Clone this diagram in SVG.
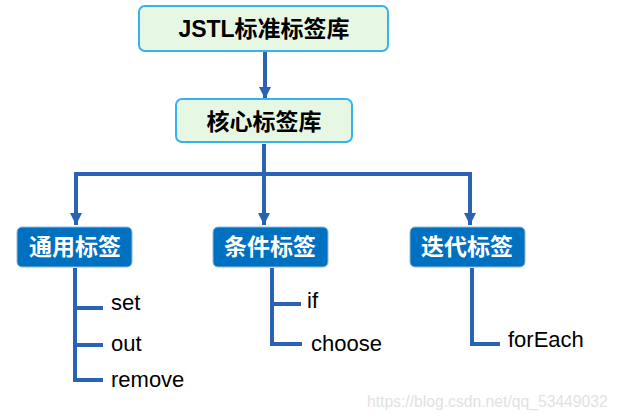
<svg xmlns="http://www.w3.org/2000/svg" width="618" height="419" viewBox="0 0 618 419">
<defs>
<style>
.top{fill:#e6f8e4;stroke:#38b2ec;stroke-width:2}
.cat{fill:#0070c0;stroke:#8fb8e0;stroke-width:1}
.tt{font-family:"Liberation Sans","Noto Sans CJK SC",sans-serif;font-size:23px;font-weight:bold;fill:#000;text-anchor:middle}
.ct{font-family:"Liberation Sans","Noto Sans CJK SC",sans-serif;font-size:23px;font-weight:bold;fill:#fff;text-anchor:middle}
.it{font-family:"Liberation Sans",Arial,sans-serif;font-size:22px;fill:#000}
.ln{fill:none;stroke:#2a62b6;stroke-width:4}
.wm{font-family:"Liberation Sans",Arial,sans-serif;font-size:15.7px;fill:#e2e2e2}
</style>
<marker id="ah" viewBox="0 0 10 10" refX="10" refY="5" markerWidth="3" markerHeight="3" orient="auto" markerUnits="strokeWidth">
<path d="M0,0 L10,5 L0,10 z" fill="#2a62b6"/>
</marker>
</defs>
<rect width="618" height="419" fill="#fff"/>
<g id="connectors">
<line class="ln" x1="265" y1="52" x2="265" y2="99" marker-end="url(#ah)"/>
<polyline class="ln" points="264,144 264,174"/>
<polyline class="ln" points="76,176 76,174 470,174 470,225" marker-end="url(#ah)"/>
<line class="ln" x1="76" y1="172" x2="76" y2="225" marker-end="url(#ah)"/>
<line class="ln" x1="264" y1="174" x2="264" y2="225" marker-end="url(#ah)"/>
<polyline class="ln" points="75,268 75,380 103,380"/>
<line class="ln" x1="75" y1="308" x2="103" y2="308"/>
<line class="ln" x1="75" y1="345" x2="103" y2="345"/>
<polyline class="ln" points="272,268 272,344 302,344"/>
<line class="ln" x1="272" y1="304" x2="301" y2="304"/>
<polyline class="ln" points="472,268 472,344 500,344"/>
</g>
<g id="jstl">
<rect class="top" x="139" y="6" width="249" height="45" rx="6"/>
<text class="tt" x="264" y="37">JSTL标准标签库</text>
</g>
<g id="core">
<rect class="top" x="176" y="99" width="176" height="43" rx="6"/>
<text class="tt" x="264" y="130">核心标签库</text>
</g>
<g id="general">
<rect class="cat" x="17" y="227" width="115" height="40" rx="5"/>
<text class="ct" x="75" y="255">通用标签</text>
</g>
<g id="condition">
<rect class="cat" x="213" y="227" width="115" height="40" rx="5"/>
<text class="ct" x="270" y="255">条件标签</text>
</g>
<g id="iteration">
<rect class="cat" x="410" y="227" width="115" height="40" rx="5"/>
<text class="ct" x="467" y="255">迭代标签</text>
</g>
<g id="items">
<text class="it" x="111" y="310">set</text>
<text class="it" x="111" y="351">out</text>
<text class="it" x="111" y="387">remove</text>
<text class="it" x="307" y="308">if</text>
<text class="it" x="311" y="351">choose</text>
<text class="it" x="508" y="347">forEach</text>
</g>
<text class="wm" x="367" y="407">https://blog.csdn.net/qq_53449032</text>
</svg>
